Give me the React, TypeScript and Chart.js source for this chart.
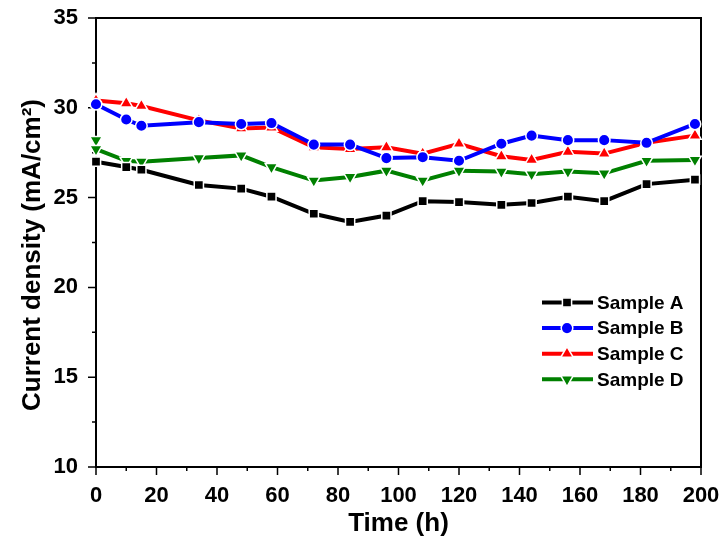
import React, { useEffect, useRef } from 'react';
import { Chart, registerables } from 'chart.js';
import { drawPoint } from 'chart.js/helpers';

Chart.register(...registerables);

const TIME_H = [0, 10, 15, 34, 48, 58, 72, 84, 96, 108, 120, 134, 144, 156, 168, 182, 198];
const TIME_D = [0, 0, 10, 15, 34, 48, 58, 72, 84, 96, 108, 120, 134, 144, 156, 168, 182, 198];

const SAMPLE_A = [27.0, 26.7, 26.55, 25.7, 25.5, 25.05, 24.1, 23.65, 24.0, 24.8, 24.75, 24.6, 24.7, 25.05, 24.8, 25.75, 26.0];
const SAMPLE_B = [30.2, 29.35, 29.0, 29.2, 29.1, 29.15, 27.95, 27.95, 27.2, 27.25, 27.05, 28.0, 28.45, 28.2, 28.2, 28.05, 29.1];
const SAMPLE_C = [30.4, 30.25, 30.1, 29.3, 28.85, 28.9, 27.8, 27.7, 27.8, 27.45, 28.0, 27.3, 27.1, 27.55, 27.45, 28.05, 28.45];
const SAMPLE_D = [28.2, 27.7, 27.05, 27.0, 27.2, 27.35, 26.7, 25.95, 26.15, 26.5, 25.95, 26.5, 26.45, 26.3, 26.45, 26.35, 27.05, 27.1];

const SERIES_LABELS = ['Sample A', 'Sample B', 'Sample C', 'Sample D'];
const X_TITLE = 'Time (h)';
const Y_TITLE = 'Current density (mA/cm\u00B2)';

const FONT = 'Arial, "Liberation Sans", sans-serif';

const toXY = (xs: number[], ys: number[]) => ys.map((y, i) => ({ x: xs[i], y }));

const framePlugin = {
  id: 'frameTicks',
  beforeDatasetsDraw(chart: any) {
    const { ctx, chartArea } = chart;
    const { left, right, top, bottom } = chartArea;
    ctx.save();
    ctx.strokeStyle = '#000';
    ctx.lineWidth = 2;
    ctx.strokeRect(left, top, right - left, bottom - top);
    const xs = chart.scales.x;
    const ys = chart.scales.y;
    ctx.lineWidth = 1.5;
    ctx.beginPath();
    for (const t of ys.ticks) {
      const py = ys.getPixelForValue(t.value);
      const major = Math.abs(t.value % 5) < 1e-6;
      ctx.moveTo(left, py);
      ctx.lineTo(left - (major ? 8 : 4), py);
    }
    for (const t of xs.ticks) {
      const px = xs.getPixelForValue(t.value);
      const major = Math.abs(t.value % 20) < 1e-6;
      ctx.moveTo(px, bottom);
      ctx.lineTo(px, bottom + (major ? 8 : 4));
    }
    ctx.stroke();
    ctx.restore();
  },
  afterDraw(chart: any) {
    const { ctx } = chart;
    ctx.save();
    // y-axis title
    ctx.save();
    ctx.translate(33, 255);
    ctx.rotate(-Math.PI / 2);
    ctx.fillStyle = '#000';
    ctx.font = `bold 26px ${FONT}`;
    ctx.textAlign = 'center';
    ctx.textBaseline = 'middle';
    ctx.fillText(Y_TITLE, 0, 0);
    ctx.restore();
    // legend
    chart.data.datasets.forEach((ds: any, i: number) => {
      const y = 302.5 + i * 25.6;
      ctx.strokeStyle = ds.borderColor;
      ctx.lineWidth = ds.borderWidth;
      ctx.beginPath();
      ctx.moveTo(542, y);
      ctx.lineTo(593, y);
      ctx.stroke();
      ctx.fillStyle = ds.pointBackgroundColor;
      ctx.strokeStyle = ds.pointBorderColor;
      ctx.lineWidth = ds.pointBorderWidth;
      drawPoint(ctx, { pointStyle: ds.pointStyle, rotation: ds.pointRotation || 0, radius: ds.pointRadius, borderWidth: ds.pointBorderWidth }, 567, y);
      ctx.fillStyle = '#000';
      ctx.font = `bold 19px ${FONT}`;
      ctx.textBaseline = 'middle';
      ctx.textAlign = 'left';
      ctx.fillText(ds.label, 597, y + 1);
    });
    ctx.restore();
  },
};

function makeDataset(label: string, data: any[], color: string, style: string, radius: number, rotation = 0) {
  return {
    label,
    data,
    borderColor: color,
    backgroundColor: color,
    borderWidth: 4,
    pointStyle: style,
    pointRotation: rotation,
    pointRadius: radius,
    pointBackgroundColor: color,
    pointBorderColor: '#ffffff',
    pointBorderWidth: 1.5,
    tension: 0,
    clip: false as any,
  };
}

export default function App() {
  const ref = useRef<HTMLCanvasElement | null>(null);
  useEffect(() => {
    if (!ref.current) return;
    const chart = new Chart(ref.current, {
      type: 'line',
      data: {
        datasets: [
          makeDataset(SERIES_LABELS[0], toXY(TIME_H, SAMPLE_A), '#000000', 'rect', 6.5),
          makeDataset(SERIES_LABELS[1], toXY(TIME_H, SAMPLE_B), '#0000ff', 'circle', 5.8),
          makeDataset(SERIES_LABELS[2], toXY(TIME_H, SAMPLE_C), '#ff0000', 'triangle', 7.2),
          makeDataset(SERIES_LABELS[3], toXY(TIME_D, SAMPLE_D), '#008000', 'triangle', 7.2, 180),
        ] as any,
      },
      options: {
        responsive: false,
        animation: false,
        layout: { padding: { left: 0, right: 22, top: 18, bottom: 0 } },
        plugins: { legend: { display: false }, tooltip: { enabled: false } },
        scales: {
          x: {
            type: 'linear',
            min: 0,
            max: 200,
            grid: { display: false },
            border: { display: false },
            ticks: {
              stepSize: 10,
              autoSkip: false,
              maxRotation: 0,
              padding: 8,
              color: '#000',
              font: { family: FONT, size: 22, weight: 'bold' },
              callback: (v: any) => (Number(v) % 20 === 0 ? String(v) : ''),
            },
            title: {
              display: true,
              text: X_TITLE,
              color: '#000',
              font: { family: FONT, size: 26, weight: 'bold' },
              padding: { top: 0, bottom: 6 },
            },
            afterFit: (s: any) => {
              s.height = 78;
              s.paddingLeft = 0;
              s.paddingRight = 0;
            },
          },
          y: {
            type: 'linear',
            min: 10,
            max: 35,
            grid: { display: false },
            border: { display: false },
            ticks: {
              stepSize: 2.5,
              autoSkip: false,
              padding: 10,
              color: '#000',
              font: { family: FONT, size: 22, weight: 'bold' },
              callback: (v: any) => (Number(v) % 5 === 0 ? String(v) : ''),
            },
            afterFit: (s: any) => {
              s.width = 96;
              s.paddingTop = 0;
              s.paddingBottom = 0;
            },
          },
        },
      } as any,
      plugins: [framePlugin],
    });
    return () => chart.destroy();
  }, []);
  return (
    <div style={{ position: 'absolute', left: 0, top: 0, width: 723, height: 545, background: '#fff' }}>
      <canvas ref={ref} width={723} height={545} />
    </div>
  );
}
